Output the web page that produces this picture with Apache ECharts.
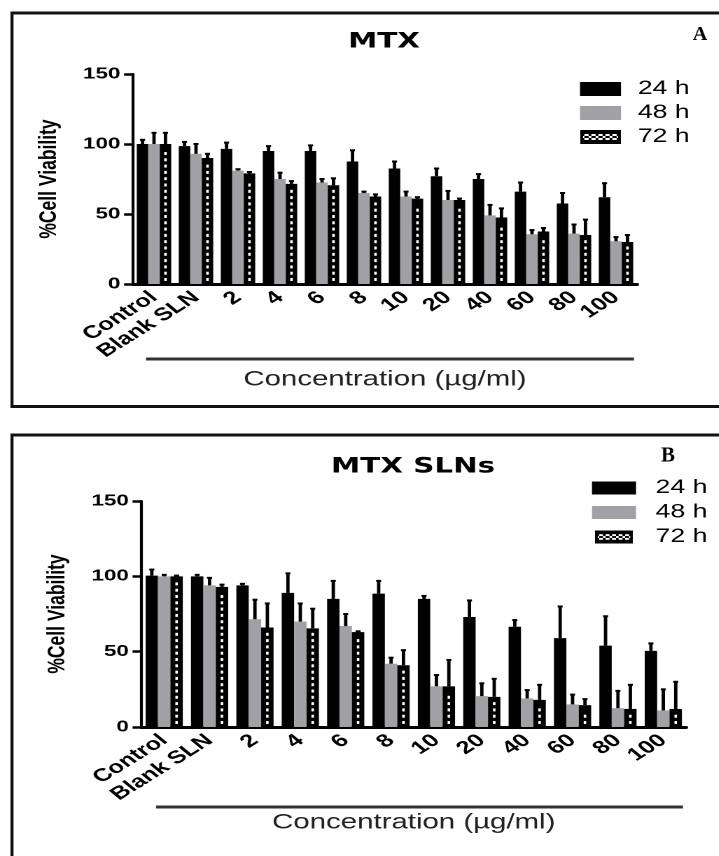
<!DOCTYPE html>
<html>
<head>
<meta charset="utf-8">
<title>MTX / MTX SLNs cell viability</title>
<script src="https://cdn.jsdelivr.net/npm/echarts@6/dist/echarts.min.js"></script>
<style>
  html, body { margin: 0; padding: 0; background: #fff; overflow: hidden; }
  /* the original figure is stretched sideways, so draw narrow and stretch */
  #chart { width: 514px; height: 856px; transform: scaleX(1.4); transform-origin: 0 0; }
</style>
</head>
<body>
<div id="chart"></div>
<script>
var categories = ["Control", "Blank SLN", "2", "4", "6", "8", "10", "20", "40", "60", "80", "100"];
var seriesNames = ["24 h", "48 h", "72 h"];
var yTicks = [0, 50, 100, 150];

// panel A : MTX
var mtx24 = [100, 98.5, 96.5, 95, 95, 87.5, 82.5, 77, 75, 66, 57.5, 62];
var mtx24Err = [3, 3, 4.5, 3.5, 4, 8, 5, 5.5, 3.5, 6.5, 7.5, 10];
var mtx48 = [100, 93, 81, 75, 72.5, 65, 62.5, 60, 49, 35.5, 36, 30.5];
var mtx48Err = [8, 7, 1, 4.5, 2.5, 1, 3.5, 6.5, 7.5, 3, 6.5, 3];
var mtx72 = [100, 90, 79, 71.5, 70.5, 62.5, 61, 60, 47.5, 37.5, 35, 30];
var mtx72Err = [8, 3, 1, 2, 5, 1.5, 1, 1, 6.5, 2.5, 11, 5];

// panel B : MTX SLNs
var sln24 = [100.5, 100, 94, 89, 85, 88.5, 85, 73, 66.5, 59, 54, 50.5];
var sln24Err = [4, 1, 1, 13, 12, 8.5, 2, 11, 4.5, 21, 19.5, 5];
var sln48 = [100, 94, 71.5, 70, 67, 42, 27, 20.5, 19, 15, 12.5, 11];
var sln48Err = [1, 5, 13, 12, 8, 4, 7.5, 8.5, 5.5, 6.5, 11.5, 14];
var sln72 = [100, 93, 66, 65.5, 63, 41, 27, 20, 18, 14.5, 12, 12];
var sln72Err = [0.5, 1.5, 16, 13, 0.5, 10, 17.5, 12, 10, 4, 16, 18];

var S = 1.4; // horizontal stretch
function sx(v) { return v / S; }
var FONT = "'Liberation Sans', Arial, sans-serif";
var GAP = 0.18;
var GRAY = "#a1a1a5";

// legend icon for 72 h (black box with white pattern)
function patternIcon() {
  var c = document.createElement("canvas");
  c.width = 58; c.height = 28;
  var g = c.getContext("2d");
  g.fillStyle = "#000"; g.fillRect(0, 0, 58, 28);
  g.fillStyle = "#fff";
  for (var i = 0; i < 5; i++) {
    g.fillRect(6 + i * 10, 8, 6, 4);
    g.fillRect(6 + i * 10, 16, 6, 4);
    g.fillRect(4 + i * 10, 12, 2, 4);
    g.fillRect(12 + i * 10, 12, 2, 4);
  }
  return c.toDataURL();
}
var icon72 = "image://" + patternIcon();

function errData(a, b, c, ea, eb, ec) {
  var out = [];
  for (var i = 0; i < categories.length; i++) {
    out.push([i, 0, a[i], ea[i]]);
    out.push([i, 1, b[i], eb[i]]);
    out.push([i, 2, c[i], ec[i]]);
  }
  return out;
}

// error bars (upper only) + white dots inside the 72 h bars
function renderErr(params, api) {
  var cat = api.value(0), slot = api.value(1), v = api.value(2), e = api.value(3);
  var base = api.coord([cat, 0]);
  var top = api.coord([cat, v]);
  var tip = api.coord([cat, v + e]);
  var bw = api.size([1, 0])[0] * (1 - GAP) / 3;
  var cx = base[0] + (slot - 1) * bw;
  var kids = [];
  if (slot === 2) {
    var y = base[1] - 3;
    while (y - 3 > top[1] + 4) {
      kids.push({ type: "rect", z2: 10, shape: { x: cx - 0.9, y: y - 3, width: 1.8, height: 3 }, style: { fill: "#fff" } });
      y -= 6.3;
    }
  }
  kids.push({ type: "line", shape: { x1: cx, y1: top[1], x2: cx, y2: tip[1] }, style: { stroke: "#000", lineWidth: 2.4 } });
  kids.push({ type: "line", shape: { x1: cx - 1.8, y1: tip[1], x2: cx + 1.8, y2: tip[1] }, style: { stroke: "#000", lineWidth: 2 } });
  return { type: "group", children: kids };
}

function bar(name, data, color, idx) {
  return {
    name: name, type: "bar", xAxisIndex: idx, yAxisIndex: idx, data: data,
    barGap: "0%", barCategoryGap: (GAP * 100) + "%", z: 2,
    itemStyle: { color: color }, silent: true
  };
}

function xAxis(idx) {
  return {
    type: "category", gridIndex: idx, data: categories,
    name: "Concentration (µg/ml)", nameLocation: "middle", nameGap: 85,
    nameTextStyle: { fontFamily: FONT, fontSize: 21, color: "#222" },
    axisLine: { lineStyle: { color: "#000", width: 3 } },
    axisTick: { alignWithLabel: true, length: 5, lineStyle: { color: "#000", width: 2 } },
    axisLabel: { interval: 0, rotate: 41, margin: 11, fontFamily: FONT, fontSize: 18, fontWeight: "bold", color: "#000" }
  };
}

function yAxis(idx) {
  return {
    type: "value", gridIndex: idx, min: yTicks[0], max: yTicks[yTicks.length - 1], interval: 50,
    name: "%Cell Viability", nameLocation: "middle", nameRotate: 90, nameGap: 51,
    nameTextStyle: { fontFamily: FONT, fontSize: 17.5, fontWeight: "bold", color: "#000" },
    axisLine: { show: true, lineStyle: { color: "#000", width: 2.1 } },
    axisTick: { show: true, length: 6.4, lineStyle: { color: "#000", width: 2.5 } },
    axisLabel: { margin: 9, fontFamily: FONT, fontSize: 16, fontWeight: "bold", color: "#000" },
    splitLine: { show: false }
  };
}

function legend(left, top, w, h, gap, textGap) {
  return {
    orient: "vertical", left: left, top: top, itemWidth: w, itemHeight: h, itemGap: gap,
    padding: 0, selectedMode: false,
    data: [
      { name: seriesNames[0], icon: "rect" },
      { name: seriesNames[1], icon: "rect" },
      { name: seriesNames[2], icon: icon72 }
    ],
    textStyle: { fontFamily: FONT, fontSize: 19, color: "#000", padding: [0, 0, 0, textGap] }
  };
}

function hline(x1, x2, y, w, c) {
  return { type: "line", silent: true, shape: { x1: sx(x1), y1: y, x2: sx(x2), y2: y }, style: { stroke: c, lineWidth: w } };
}
function vline(x, y1, y2) {
  return { type: "line", silent: true, shape: { x1: sx(x), y1: y1, x2: sx(x), y2: y2 }, style: { stroke: "#111", lineWidth: 3 / S } };
}
function label(text, x, y, font, squeeze) {
  return {
    type: "text", x: sx(x), y: y, scaleX: squeeze ? 1 / S : 1, silent: true,
    style: { text: text, font: font, fill: "#000", align: "center", verticalAlign: "middle" }
  };
}

var chart = echarts.init(document.getElementById("chart"), null, { devicePixelRatio: 2 });
var option = {
  animation: false,
  backgroundColor: "#fff",
  grid: [
    { left: sx(133), width: sx(504), top: 74, height: 210 },
    { left: sx(141.5), width: sx(544.5), top: 501, height: 226 }
  ],
  xAxis: [xAxis(0), xAxis(1)],
  yAxis: [yAxis(0), yAxis(1)],
  legend: [
    legend(sx(580), 79.5, sx(41), 14, 5, 7),
    legend(sx(592), 478.5, sx(44), 13, 5.5, 9)
  ],
  series: [
    bar(seriesNames[0], mtx24, "#000", 0),
    bar(seriesNames[1], mtx48, GRAY, 0),
    bar(seriesNames[2], mtx72, "#000", 0),
    bar(seriesNames[0], sln24, "#000", 1),
    bar(seriesNames[1], sln48, GRAY, 1),
    bar(seriesNames[2], sln72, "#000", 1),
    { type: "custom", xAxisIndex: 0, yAxisIndex: 0, renderItem: renderErr, silent: true, z: 5,
      encode: { x: 0, y: 2 }, data: errData(mtx24, mtx48, mtx72, mtx24Err, mtx48Err, mtx72Err) },
    { type: "custom", xAxisIndex: 1, yAxisIndex: 1, renderItem: renderErr, silent: true, z: 5,
      encode: { x: 0, y: 2 }, data: errData(sln24, sln48, sln72, sln24Err, sln48Err, sln72Err) }
  ],
  graphic: [
    // panel frames
    hline(10.5, 730, 13, 3, "#111"),
    hline(10.5, 730, 406.5, 3, "#111"),
    vline(12, 11.5, 408),
    hline(10.5, 730, 435, 3, "#111"),
    vline(12, 433.5, 870),
    // lines above the x-axis titles
    hline(146, 634, 359, 3, "#333"),
    hline(156, 683, 807, 3, "#333"),
    // panel titles and letters
    label("MTX", 384, 42, "bold 21px 'DejaVu Sans', sans-serif", false),
    label("MTX SLNs", 413, 467, "bold 21px 'DejaVu Sans', sans-serif", false),
    label("A", 700, 35, "bold 20px 'Liberation Serif', 'Times New Roman', serif", true),
    label("B", 668, 456, "bold 21px 'Liberation Serif', 'Times New Roman', serif", true)
  ]
};
chart.setOption(option);
</script>
</body>
</html>
